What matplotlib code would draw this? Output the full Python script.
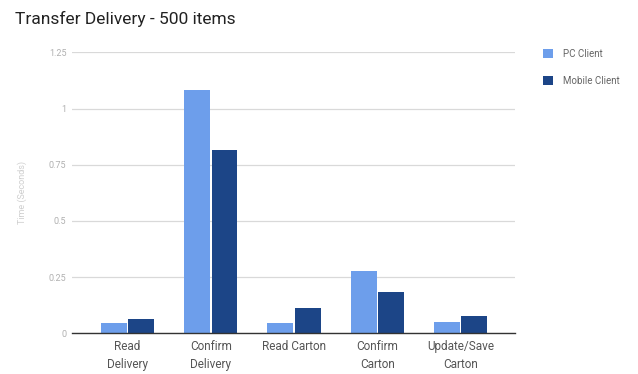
import matplotlib
matplotlib.use("Agg")
import matplotlib.pyplot as plt
import numpy as np

categories = ["Read\nDelivery", "Confirm\nDelivery", "Read Carton", "Confirm\nCarton", "Update/Save\nCarton"]
pc_client = [0.044, 1.085, 0.044, 0.276, 0.049]
mobile_client = [0.062, 0.815, 0.113, 0.182, 0.076]
series_names = ["PC Client", "Mobile Client"]
y_ticks = [0, 0.25, 0.5, 0.75, 1, 1.25]
y_tick_labels = ["0", "0.25", "0.5", "0.75", "1", "1.25"]

plt.rcParams["font.family"] = ["Roboto", "DejaVu Sans"]

fig = plt.figure(figsize=(6.38, 3.74), dpi=100)
ax = fig.add_axes([0.1129, 0.1088, 0.694, 0.751])

x = np.arange(len(categories))
w = 0.31
gap = 0.01
ax.bar(x - w / 2 - gap, pc_client, width=w, color="#6d9eeb", label=series_names[0], zorder=3)
ax.bar(x + w / 2 + gap, mobile_client, width=w, color="#1c4587", label=series_names[1], zorder=3)

ax.set_xlim(-0.665, 4.65)
ax.set_ylim(0, 1.25)
ax.set_yticks(y_ticks)
ax.set_yticklabels(y_tick_labels, fontsize=6.5, color="#b0b0b0")
ax.set_xticks(x)
ax.set_xticklabels(categories, fontsize=8.5, color="#555555", linespacing=1.5)
ax.tick_params(axis="both", length=0, pad=4)
ax.tick_params(axis="x", pad=5)
ax.grid(axis="y", color="#d9d9d9", linewidth=0.9, zorder=0)
for s in ["top", "right", "left"]:
    ax.spines[s].set_visible(False)
ax.spines["bottom"].set_color("#333333")
ax.spines["bottom"].set_linewidth(1.0)
ax.spines["bottom"].set_zorder(4)

ax.set_ylabel("Time (Seconds)", fontsize=6.5, color="#cfcfcf", labelpad=16)

fig.text(15 / 638, 1 - 19 / 374, "Transfer Delivery - 500 items", fontsize=12.5,
         color="#222222", va="center", ha="left")

leg = ax.legend(loc="upper left", bbox_to_anchor=(1.045, 1.045), frameon=False,
                fontsize=7, handlelength=1.0, handleheight=1.0, labelspacing=1.75,
                handletextpad=1.0)
for t in leg.get_texts():
    t.set_color("#666666")

fig.savefig("out.png", dpi=100)
